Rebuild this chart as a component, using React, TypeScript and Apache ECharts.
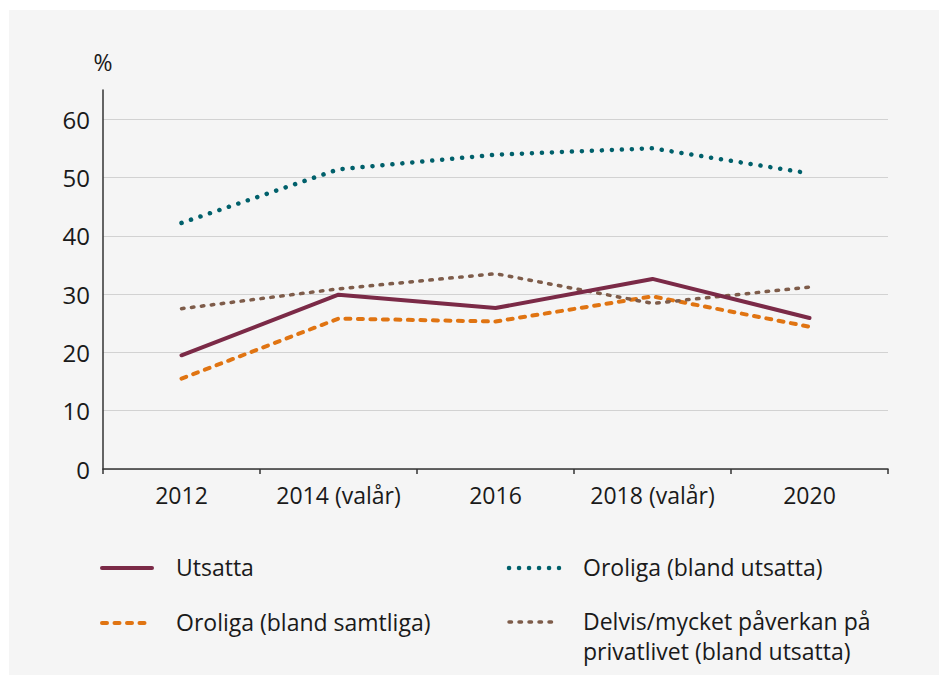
import React, { useEffect, useRef } from "react";
import * as echarts from "echarts";

const categories = ["2012", "2014 (valår)", "2016", "2018 (valår)", "2020"];
const seriesNames = [
  "Utsatta",
  "Oroliga (bland samtliga)",
  "Oroliga (bland utsatta)",
  "Delvis/mycket påverkan på privatlivet (bland utsatta)",
];
const utsatta = [19.5, 29.9, 27.6, 32.6, 25.9];
const oroligaSamtliga = [15.5, 25.8, 25.3, 29.6, 24.4];
const oroligaUtsatta = [42.2, 51.4, 53.9, 55.0, 50.7];
const delvisPaverkan = [27.5, 30.9, 33.5, 28.4, 31.2];
const yTicks = [0, 10, 20, 30, 40, 50, 60];

const FONT = "'Open Sans', sans-serif";
const TEXT = "#1a1a1a";
const colors = ["#7b2a47", "#e07412", "#00606b", "#7e5c4a"];
const widths = [4, 4, 4.5, 3.5];
const dashes: (number[] | "solid")[] = ["solid", [5, 7.5], [0.1, 9.9], [2.5, 7.5]];

export default function App() {
  const ref = useRef<HTMLDivElement>(null);
  useEffect(() => {
    if (!ref.current) return;
    const chart = echarts.init(ref.current, null, { renderer: "svg" });
    const data = [utsatta, oroligaSamtliga, oroligaUtsatta, delvisPaverkan];
    const splitColors = yTicks.map(() => "#d2d2d2").concat(["rgba(0,0,0,0)"]);

    const legendPos = [
      { x: 100, y: 568 },
      { x: 100, y: 623 },
      { x: 507, y: 568 },
      { x: 507, y: 622 },
    ];
    const legendLabels = [
      seriesNames[0],
      seriesNames[1],
      seriesNames[2],
      "Delvis/mycket påverkan på\nprivatlivet (bland utsatta)",
    ];
    const graphic: any[] = [];
    legendPos.forEach((p, i) => {
      graphic.push({
        type: "line",
        shape: { x1: p.x + 2, y1: p.y, x2: p.x + 52, y2: p.y },
        style: {
          stroke: colors[i],
          lineWidth: widths[i],
          lineDash: dashes[i] === "solid" ? null : (dashes[i] as number[]),
          lineCap: "round",
        },
      });
      graphic.push({
        type: "text",
        x: p.x + 76,
        y: p.y - 16,
        style: {
          text: legendLabels[i],
          font: `23px ${FONT}`,
          fill: TEXT,
          lineHeight: 30,
          verticalAlign: "top",
        },
      });
    });

    chart.setOption({
      animation: false,
      backgroundColor: "transparent",
      textStyle: { fontFamily: FONT },
      grid: { left: 103, right: 51, top: 90, bottom: 206, containLabel: false },
      xAxis: {
        type: "category",
        data: categories,
        boundaryGap: true,
        axisLine: { lineStyle: { color: "#333", width: 1.5 } },
        axisTick: { show: true, interval: 0, length: 5, lineStyle: { color: "#333", width: 1.5 } },
        axisLabel: { color: TEXT, fontSize: 23, margin: 14, fontFamily: FONT, interval: 0 },
      },
      yAxis: {
        type: "value",
        min: 0,
        max: 65,
        interval: 10,
        name: "%",
        nameLocation: "end",
        nameGap: 17,
        nameTextStyle: { color: TEXT, fontSize: 23, fontFamily: FONT, align: "center" },
        axisLine: { show: true, lineStyle: { color: "#333", width: 1.5 } },
        axisTick: { show: false },
        axisLabel: { color: TEXT, fontSize: 24, margin: 13, fontFamily: FONT, showMaxLabel: false },
        splitLine: { show: true, lineStyle: { color: splitColors, width: 1 } },
      },
      graphic,
      series: data.map((d, i) => ({
        type: "line",
        name: seriesNames[i],
        data: d,
        symbol: "none",
        lineStyle: {
          color: colors[i],
          width: widths[i],
          type: dashes[i],
          cap: "round",
          join: "round",
        },
        z: i === 0 ? 5 : 3,
      })),
    });
    return () => chart.dispose();
  }, []);

  return (
    <div style={{ position: "absolute", left: 0, top: 0, width: 939, height: 675, background: "#fff" }}>
      <div style={{ position: "absolute", left: 9, top: 10, width: 930, height: 665, background: "#f5f5f5" }} />
      <div ref={ref} style={{ position: "absolute", left: 0, top: 0, width: 939, height: 675 }} />
    </div>
  );
}
